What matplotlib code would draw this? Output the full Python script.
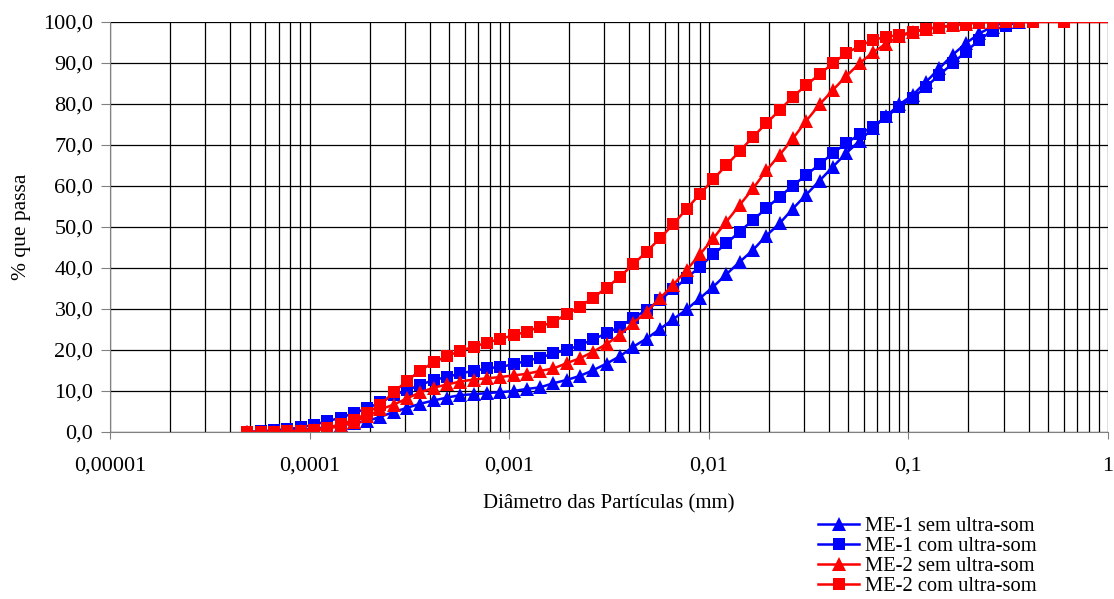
import matplotlib
matplotlib.use("Agg")
import matplotlib.pyplot as plt
from matplotlib.ticker import LogLocator, FixedLocator, NullFormatter, FuncFormatter

plt.rcParams['font.family'] = ['Liberation Serif', 'DejaVu Serif']

# particle diameters (mm)
diam = [4.880e-5, 5.690e-5, 6.634e-5, 7.735e-5, 9.018e-5,
        1.0514e-4, 1.2259e-4, 1.4293e-4, 1.6664e-4, 1.9429e-4,
        2.2653e-4, 2.6411e-4, 3.0793e-4, 3.5902e-4, 4.1860e-4,
        4.880e-4, 5.690e-4, 6.634e-4, 7.735e-4, 9.018e-4,
        1.0514e-3, 1.2259e-3, 1.4293e-3, 1.6664e-3, 1.9429e-3,
        2.2653e-3, 2.6411e-3, 3.0793e-3, 3.5902e-3, 4.1860e-3,
        4.880e-3, 5.690e-3, 6.634e-3, 7.735e-3, 9.018e-3,
        1.0514e-2, 1.2259e-2, 1.4293e-2, 1.6664e-2, 1.9429e-2,
        2.2653e-2, 2.6411e-2, 3.0793e-2, 3.5902e-2, 4.1860e-2,
        4.880e-2, 5.690e-2, 6.634e-2, 7.735e-2, 9.018e-2,
        1.0514e-1, 1.2259e-1, 1.4293e-1, 1.6664e-1, 1.9429e-1,
        2.2653e-1, 2.6411e-1, 3.0793e-1, 3.5902e-1, 4.1860e-1,
        6.0e-1, 2.0]

me1_sem = [0, 0, 0.1, 0.3, 0.5, 0.8, 1.2, 1.6, 2.1, 2.7,
           3.7, 4.9, 5.9, 6.9, 7.7, 8.4, 9.0, 9.2, 9.5, 9.7,
           10.0, 10.5, 10.9, 11.9, 12.7, 13.7, 15.1, 16.7, 18.5, 20.8,
           22.8, 25.1, 27.5, 29.9, 32.6, 35.4, 38.5, 41.5, 44.4, 47.9,
           50.9, 54.5, 57.9, 61.3, 64.7, 68.0, 71.0, 74.1, 77.0, 79.9,
           82.2, 85.4, 88.7, 92.0, 94.8, 97.2, 98.9, 100, 100]

me1_com = [0, 0.2, 0.4, 0.7, 1.1, 1.8, 2.6, 3.5, 4.6, 5.8,
           7.2, 9.0, 10.2, 11.5, 12.7, 13.4, 14.3, 14.9, 15.5, 15.9,
           16.5, 17.4, 18.1, 19.2, 20.0, 21.2, 22.6, 24.1, 25.7, 27.8,
           29.8, 32.2, 34.8, 37.5, 40.3, 43.3, 46.0, 48.9, 51.7, 54.6,
           57.4, 60.1, 62.7, 65.3, 68.0, 70.4, 72.6, 74.5, 76.9, 79.3,
           81.5, 84.2, 87.1, 89.9, 92.8, 95.6, 97.9, 99.1, 100, 100]

me2_sem = [0, 0, 0, 0.1, 0.2, 0.4, 0.8, 1.5, 2.5, 3.8,
           5.5, 6.7, 8.2, 9.7, 10.8, 11.6, 12.3, 12.8, 13.1, 13.4,
           13.8, 14.2, 14.9, 15.5, 16.8, 18.0, 19.6, 21.5, 23.7, 26.6,
           29.3, 32.6, 35.9, 39.5, 43.3, 47.2, 51.3, 55.4, 59.4, 63.8,
           67.6, 71.6, 75.9, 79.9, 83.4, 86.8, 89.9, 92.6, 94.7, 96.5,
           97.5, 98.3, 98.8, 99.2, 99.6, 100, 100]

me2_com = [0, 0, 0, 0.2, 0.3, 0.5, 1.0, 1.9, 2.9, 4.6,
           6.7, 9.7, 12.5, 15.0, 17.0, 18.5, 19.8, 20.8, 21.8, 22.7,
           23.6, 24.5, 25.7, 26.9, 28.7, 30.6, 32.8, 35.2, 37.9, 40.9,
           44.0, 47.2, 50.7, 54.4, 58.0, 61.6, 65.1, 68.5, 72.0, 75.3,
           78.5, 81.8, 84.6, 87.3, 89.9, 92.4, 94.1, 95.6, 96.4, 96.8,
           97.6, 98.3, 98.7, 99.1, 99.5, 99.9, 100, 100, 100, 100,
           100, 100]

labels = ["ME-1 sem ultra-som", "ME-1 com ultra-som",
          "ME-2 sem ultra-som", "ME-2 com ultra-som"]
xtick_vals = [1e-5, 1e-4, 1e-3, 1e-2, 1e-1, 1]
xtick_labels = ["0,00001", "0,0001", "0,001", "0,01", "0,1", "1"]

fig = plt.figure(figsize=(11.14, 5.99), dpi=100)
ax = fig.add_axes([110/1114, 1-432/599, (1108-110)/1114, (432-22)/599])

series = [(me1_sem, '#0000FF', '^', 9.5),
          (me1_com, '#0000FF', 's', 8.3),
          (me2_sem, '#FF0000', '^', 9.5),
          (me2_com, '#FF0000', 's', 8.3)]
handles = []
for (vals, col, mk, ms), lab in zip(series, labels):
    h, = ax.plot(diam[:len(vals)], vals, color=col, marker=mk, markersize=ms,
                 linewidth=1.8, markeredgewidth=0, label=lab, clip_on=True)
    handles.append(h)

ax.set_xscale('log')
ax.set_xlim(1e-5, 1)
ax.set_ylim(0, 100)
ax.xaxis.set_major_locator(FixedLocator(xtick_vals))
ax.set_xticklabels(xtick_labels)
ax.xaxis.set_minor_locator(LogLocator(base=10, subs=range(2, 10), numticks=20))
ax.xaxis.set_minor_formatter(NullFormatter())
ax.set_yticks(range(0, 101, 10))
ax.yaxis.set_major_formatter(FuncFormatter(lambda v, p: f"{v:.1f}".replace('.', ',')))

ax.grid(True, which='major', axis='both', color='black', linewidth=0.9)
ax.grid(True, which='minor', axis='x', color='black', linewidth=0.9)
ax.set_axisbelow(True)
for s in ['top', 'right']:
    ax.spines[s].set_visible(False)
ax.spines['left'].set_color('#808080')
ax.spines['bottom'].set_color('#808080')
ax.tick_params(axis='both', which='major', direction='out', color='#808080',
               labelsize=16)
ax.tick_params(axis='x', which='major', length=5, pad=13)
ax.tick_params(axis='y', which='major', length=6.5, pad=5.5)
ax.tick_params(axis='x', which='minor', length=0)

ax.set_xlabel("Diâmetro das Partículas (mm)", fontsize=15, labelpad=13)
ax.set_ylabel("% que passa", fontsize=15.5, labelpad=9)

fig.legend(handles=handles, labels=labels, loc='upper left',
           bbox_to_anchor=(818/1114, 1-517/599), frameon=False, fontsize=14.8,
           handlelength=2.0, handletextpad=0.3, labelspacing=0.02,
           borderaxespad=0, borderpad=0)

fig.savefig("out.png", dpi=100)
